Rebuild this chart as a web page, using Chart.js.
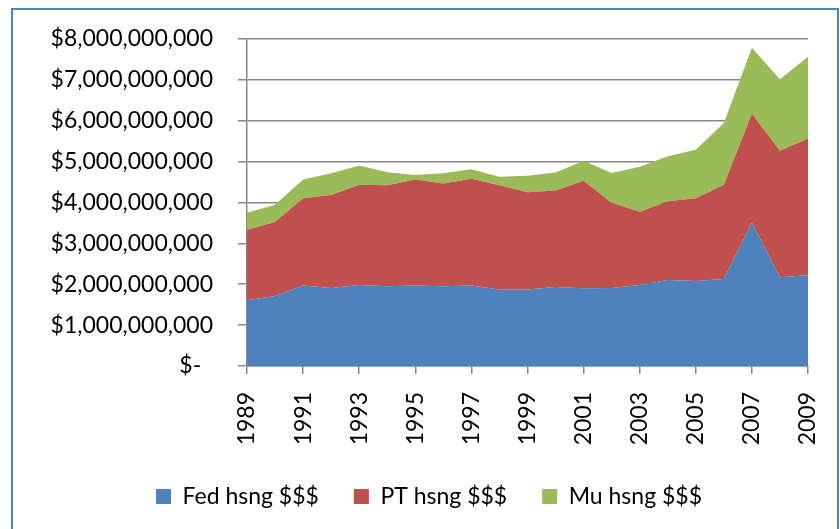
<!DOCTYPE html>
<html lang="en">
<head>
    <meta charset="UTF-8">
    <title>Housing $$$ 1989-2009</title>
    <script src="https://cdn.jsdelivr.net/npm/chart.js"></script>
    <style>
        body { margin: 0; background: #fff; }
        #wrap { position: relative; width: 840px; height: 529px; overflow: hidden; }
        #frame { position: absolute; left: 11px; top: 8px; width: 824px; height: 600px;
                 border: 2px solid #4F81BD; border-bottom: none; }
        canvas { position: absolute; left: 0; top: 0; }
    </style>
</head>
<body>
    <div id="wrap">
        <div id="frame"></div>
        <canvas id="housingChart" width="840" height="529"></canvas>
    </div>

    <script>
        // Years on the x axis
        const years = ['1989', '1990', '1991', '1992', '1993', '1994', '1995', '1996', '1997', '1998', '1999',
                       '2000', '2001', '2002', '2003', '2004', '2005', '2006', '2007', '2008', '2009'];

        // Values, in dollars
        const fedHsng = [1.61e9, 1.71e9, 1.97e9, 1.91e9, 1.98e9, 1.95e9, 1.97e9, 1.95e9, 1.97e9, 1.87e9, 1.87e9,
                         1.93e9, 1.90e9, 1.91e9, 1.98e9, 2.10e9, 2.08e9, 2.13e9, 3.50e9, 2.17e9, 2.22e9];
        const ptHsng  = [1.72e9, 1.81e9, 2.13e9, 2.27e9, 2.45e9, 2.47e9, 2.59e9, 2.51e9, 2.61e9, 2.55e9, 2.38e9,
                         2.36e9, 2.63e9, 2.08e9, 1.79e9, 1.93e9, 2.02e9, 2.30e9, 2.67e9, 3.09e9, 3.34e9];
        const muHsng  = [0.42e9, 0.42e9, 0.46e9, 0.53e9, 0.47e9, 0.32e9, 0.11e9, 0.25e9, 0.23e9, 0.21e9, 0.40e9,
                         0.44e9, 0.49e9, 0.73e9, 1.10e9, 1.10e9, 1.19e9, 1.51e9, 1.61e9, 1.75e9, 2.00e9];

        const seriesNames = ['Fed hsng $$$', 'PT hsng $$$', 'Mu hsng $$$'];
        const seriesColors = ['#4F81BD', '#C0504D', '#9BBB59'];

        const font = { family: 'Lato, "Open Sans", sans-serif', size: 23 };
        const gridColor = '#878787';

        function dollars(v) {
            if (v === 0) return '$-  ';
            return '$' + v.toLocaleString('en-US');
        }

        const ctx = document.getElementById('housingChart').getContext('2d');
        const housingChart = new Chart(ctx, {
            type: 'line',
            data: {
                labels: years,
                datasets: [fedHsng, ptHsng, muHsng].map((vals, i) => ({
                    label: seriesNames[i],
                    data: vals,
                    backgroundColor: seriesColors[i],
                    borderColor: seriesColors[i],
                    borderWidth: 0,
                    pointRadius: 0,
                    tension: 0,
                    fill: i === 0 ? 'origin' : '-1'
                }))
            },
            options: {
                responsive: false,
                animation: false,
                layout: { padding: { left: 50, top: 38, right: 32, bottom: 11 } },
                plugins: {
                    tooltip: { enabled: false },
                    legend: {
                        position: 'bottom',
                        labels: {
                            font: font,
                            color: '#000',
                            boxWidth: 15,
                            boxHeight: 15,
                            padding: 35
                        }
                    }
                },
                scales: {
                    x: {
                        offset: false,
                        grid: { display: true, drawOnChartArea: false, color: gridColor, tickLength: 8, lineWidth: 1.5 },
                        border: { color: gridColor, width: 1.5 },
                        ticks: {
                            font: font,
                            color: '#000',
                            autoSkip: false,
                            minRotation: 90,
                            maxRotation: 90,
                            padding: 18,
                            callback: function (value, index) {
                                return index % 2 === 0 ? years[index] : null;
                            }
                        },
                        afterFit: function (scale) {
                            scale.height = 84;
                            // rotated labels should not squeeze the plot sideways
                            scale.paddingLeft = 0;
                            scale.paddingRight = 0;
                        }
                    },
                    y: {
                        stacked: true,
                        min: 0,
                        max: 8e9,
                        grid: { color: gridColor, tickLength: 9, lineWidth: 1.5 },
                        border: { color: gridColor, width: 1.5 },
                        ticks: {
                            font: font,
                            color: '#000',
                            stepSize: 1e9,
                            padding: 25,
                            callback: dollars
                        },
                        afterFit: function (scale) { scale.width = 197; }
                    }
                }
            }
        });
    </script>
</body>
</html>
